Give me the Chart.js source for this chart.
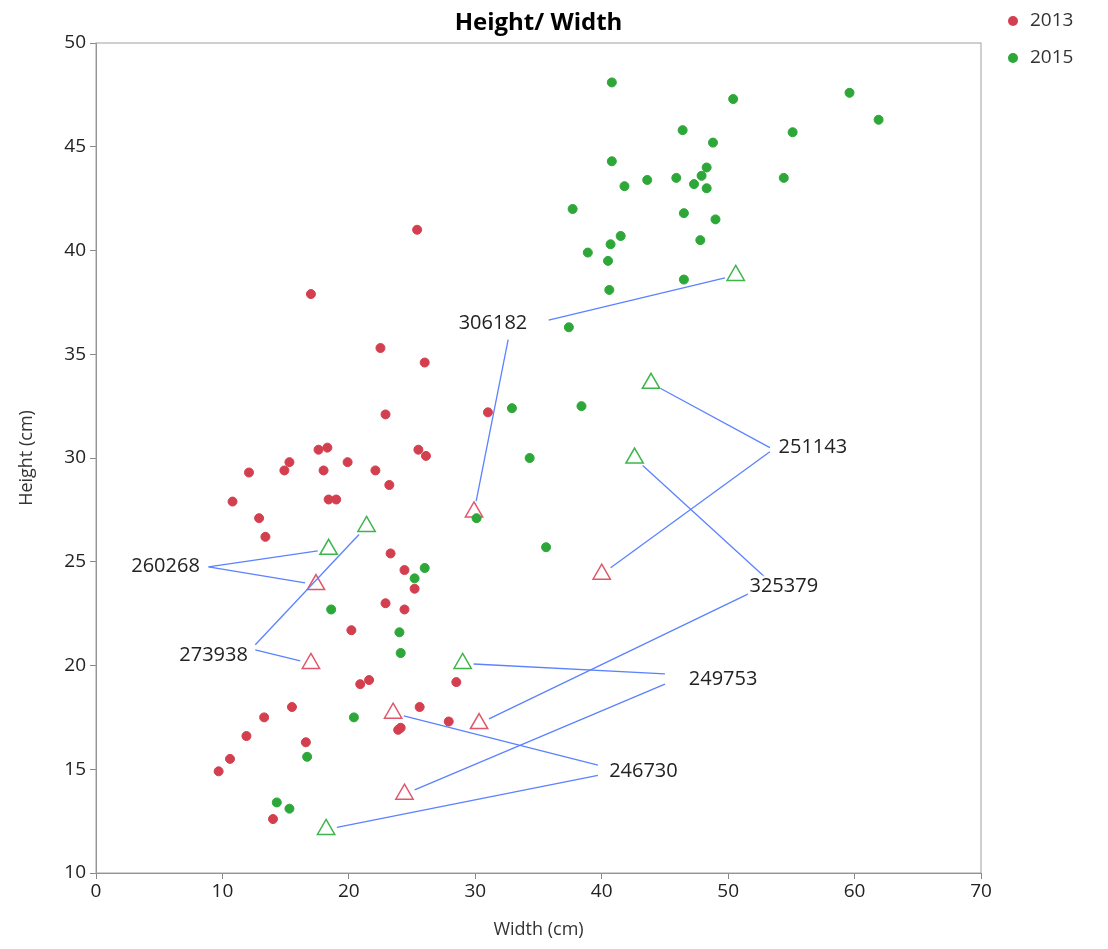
<!DOCTYPE html>
<html>
<head>
<meta charset="utf-8">
<script src="https://cdn.jsdelivr.net/npm/chart.js@4.4.1/dist/chart.umd.min.js"></script>
<style>
  html, body { margin: 0; padding: 0; background: #fff; }
  #wrap { width: 1108px; height: 949px; }
</style>
</head>
<body>
<div id="wrap"><canvas id="chart"></canvas></div>
<script>
// dots, [width, height]
const dots2013 = [
    [25.4, 41.0], [17.0, 37.9], [22.5, 35.3], [26.0, 34.6], [22.9, 32.1], [31.0, 32.2],
    [17.6, 30.4], [18.3, 30.5], [25.5, 30.4], [26.1, 30.1], [12.1, 29.3], [15.3, 29.8],
    [14.9, 29.4], [19.9, 29.8], [18.0, 29.4], [22.1, 29.4], [23.2, 28.7], [18.4, 28.0],
    [19.0, 28.0], [10.8, 27.9], [12.9, 27.1], [13.4, 26.2], [23.3, 25.4], [24.4, 24.6],
    [25.2, 23.7], [22.9, 23.0], [24.4, 22.7], [20.2, 21.7], [21.6, 19.3], [20.9, 19.1],
    [28.5, 19.2], [25.6, 18.0], [27.9, 17.3], [15.5, 18.0], [13.3, 17.5], [11.9, 16.6],
    [16.6, 16.3], [23.9, 16.9], [24.1, 17.0], [10.6, 15.5], [9.7, 14.9], [14.0, 12.6]
];
const dots2015 = [
    [40.8, 48.1], [50.4, 47.3], [59.6, 47.6], [61.9, 46.3], [46.4, 45.8], [55.1, 45.7],
    [48.8, 45.2], [40.8, 44.3], [48.3, 44.0], [43.6, 43.4], [45.9, 43.5], [47.9, 43.6],
    [41.8, 43.1], [47.3, 43.2], [48.3, 43.0], [54.4, 43.5], [37.7, 42.0], [46.5, 41.8],
    [49.0, 41.5], [41.5, 40.7], [47.8, 40.5], [40.7, 40.3], [38.9, 39.9], [40.5, 39.5],
    [46.5, 38.6], [40.6, 38.1], [37.4, 36.3], [32.9, 32.4], [38.4, 32.5], [34.3, 30.0],
    [30.1, 27.1], [35.6, 25.7], [26.0, 24.7], [25.2, 24.2], [18.6, 22.7], [24.0, 21.6],
    [24.1, 20.6], [20.4, 17.5], [16.7, 15.6], [14.3, 13.4], [15.3, 13.1]
];

// labelled items: id, 2013 triangle, 2015 triangle, label centre, line starts (2013, 2015)
const ids = ['306182', '251143', '260268', '273938', '325379', '249753', '246730'];
const tri2013 = [[29.9, 27.4], [40.0, 24.4], [17.4, 23.9], [17.0, 20.1], [30.3, 17.2], [24.4, 13.8], [23.5, 17.7]];
const tri2015 = [[50.6, 38.8], [43.9, 33.6], [18.4, 25.6], [21.4, 26.7], [42.6, 30.0], [29.0, 20.1], [18.2, 12.1]];
const labelAt = [[31.4, 36.5], [56.7, 30.5], [5.5, 24.8], [9.3, 20.5], [54.4, 23.8], [49.6, 19.35], [43.3, 14.9]];
const start2013 = [[32.6, 35.7], [53.3, 30.3], [8.9, 24.75], [12.6, 20.75], [51.6, 23.45], [45.0, 19.1], [39.7, 15.2]];
const start2015 = [[35.8, 36.65], [53.3, 30.5], [8.9, 24.75], [12.6, 21.0], [53.2, 24.1], [45.0, 19.6], [39.7, 14.7]];

const xTicks = [0, 10, 20, 30, 40, 50, 60, 70];
const yTicks = [10, 15, 20, 25, 30, 35, 40, 45, 50];

const RED = '#d33f4f';
const GREEN = '#2ca738';
const FONT = '"Open Sans", "Noto Sans", sans-serif';

const toPts = arr => arr.map(p => ({ x: p[0], y: p[1] }));

const annotations = {
    id: 'annotations',
    afterDatasetsDraw(chart) {
        const { ctx, scales: { x, y }, chartArea } = chart;
        ctx.save();
        ctx.strokeStyle = '#5b82ff';
        ctx.lineWidth = 1.3;
        const seg = (s, t) => {
            const x1 = x.getPixelForValue(s[0]), y1 = y.getPixelForValue(s[1]);
            let x2 = x.getPixelForValue(t[0]), y2 = y.getPixelForValue(t[1]);
            const d = Math.hypot(x2 - x1, y2 - y1);
            x2 -= (x2 - x1) / d * 11;
            y2 -= (y2 - y1) / d * 11;
            ctx.beginPath();
            ctx.moveTo(x1, y1);
            ctx.lineTo(x2, y2);
            ctx.stroke();
        };
        ids.forEach((id, i) => {
            seg(start2013[i], tri2013[i]);
            seg(start2015[i], tri2015[i]);
        });
        ctx.font = '20px ' + FONT;
        ctx.textAlign = 'center';
        ctx.textBaseline = 'middle';
        ids.forEach((id, i) => {
            const lx = x.getPixelForValue(labelAt[i][0]), ly = y.getPixelForValue(labelAt[i][1]);
            ctx.fillStyle = 'rgba(255,255,255,0.85)';
            ctx.fillRect(lx - 36, ly - 11, 72, 22);
            ctx.fillStyle = '#222';
            ctx.fillText(id, lx, ly);
        });

        // frame
        ctx.strokeStyle = '#a0a0a0';
        ctx.lineWidth = 1;
        ctx.strokeRect(chartArea.left, chartArea.top, chartArea.right - chartArea.left, chartArea.bottom - chartArea.top);

        // title
        ctx.fillStyle = '#000';
        ctx.font = 'bold 24px ' + FONT;
        ctx.fillText('Height/ Width', (chartArea.left + chartArea.right) / 2, 23);

        // legend
        ctx.textAlign = 'left';
        ctx.font = '19px ' + FONT;
        [['2013', RED, 21], ['2015', GREEN, 58]].forEach(([t, c, ly]) => {
            ctx.fillStyle = c;
            ctx.beginPath();
            ctx.arc(1013, ly, 5, 0, Math.PI * 2);
            ctx.fill();
            ctx.fillStyle = '#333';
            ctx.fillText(t, 1030, ly);
        });
        ctx.restore();
    }
};

new Chart(document.getElementById('chart'), {
    type: 'scatter',
    data: {
        datasets: [
            { label: '2013', data: toPts(dots2013), backgroundColor: RED, borderColor: RED, pointRadius: 4.5, pointHoverRadius: 4.5 },
            { label: '2015', data: toPts(dots2015), backgroundColor: GREEN, borderColor: GREEN, pointRadius: 4.5, pointHoverRadius: 4.5 },
            { label: 't2013', data: toPts(tri2013), pointStyle: 'triangle', pointRadius: 10, backgroundColor: 'rgba(0,0,0,0)', borderColor: '#e0566a', borderWidth: 1.5 },
            { label: 't2015', data: toPts(tri2015), pointStyle: 'triangle', pointRadius: 10, backgroundColor: 'rgba(0,0,0,0)', borderColor: '#3cb54a', borderWidth: 1.5 }
        ]
    },
    options: {
        responsive: true,
        maintainAspectRatio: false,
        animation: false,
        layout: { padding: { top: 43, right: 127, left: 12, bottom: 4 } },
        plugins: { legend: { display: false }, tooltip: { enabled: false } },
        scales: {
            x: {
                min: 0, max: 70,
                afterBuildTicks: s => { s.ticks = xTicks.map(v => ({ value: v })); },
                afterFit: s => { s.height = 72; },
                grid: { drawOnChartArea: false, tickLength: 6, color: '#888' },
                border: { color: '#888' },
                ticks: { color: '#222', font: { size: 19, family: FONT }, padding: 1 },
                title: { display: true, text: 'Width (cm)', color: '#333', font: { size: 18, family: FONT }, padding: { top: 0 } }
            },
            y: {
                min: 10, max: 50,
                afterBuildTicks: s => { s.ticks = yTicks.map(v => ({ value: v })); },
                afterFit: s => { s.width = 84; },
                grid: { drawOnChartArea: false, tickLength: 6, color: '#888' },
                border: { color: '#888' },
                ticks: { color: '#222', font: { size: 19, family: FONT }, padding: 4 },
                title: { display: true, text: 'Height (cm)', color: '#333', font: { size: 18, family: FONT }, padding: { bottom: 2 } }
            }
        }
    },
    plugins: [annotations]
});
</script>
</body>
</html>
